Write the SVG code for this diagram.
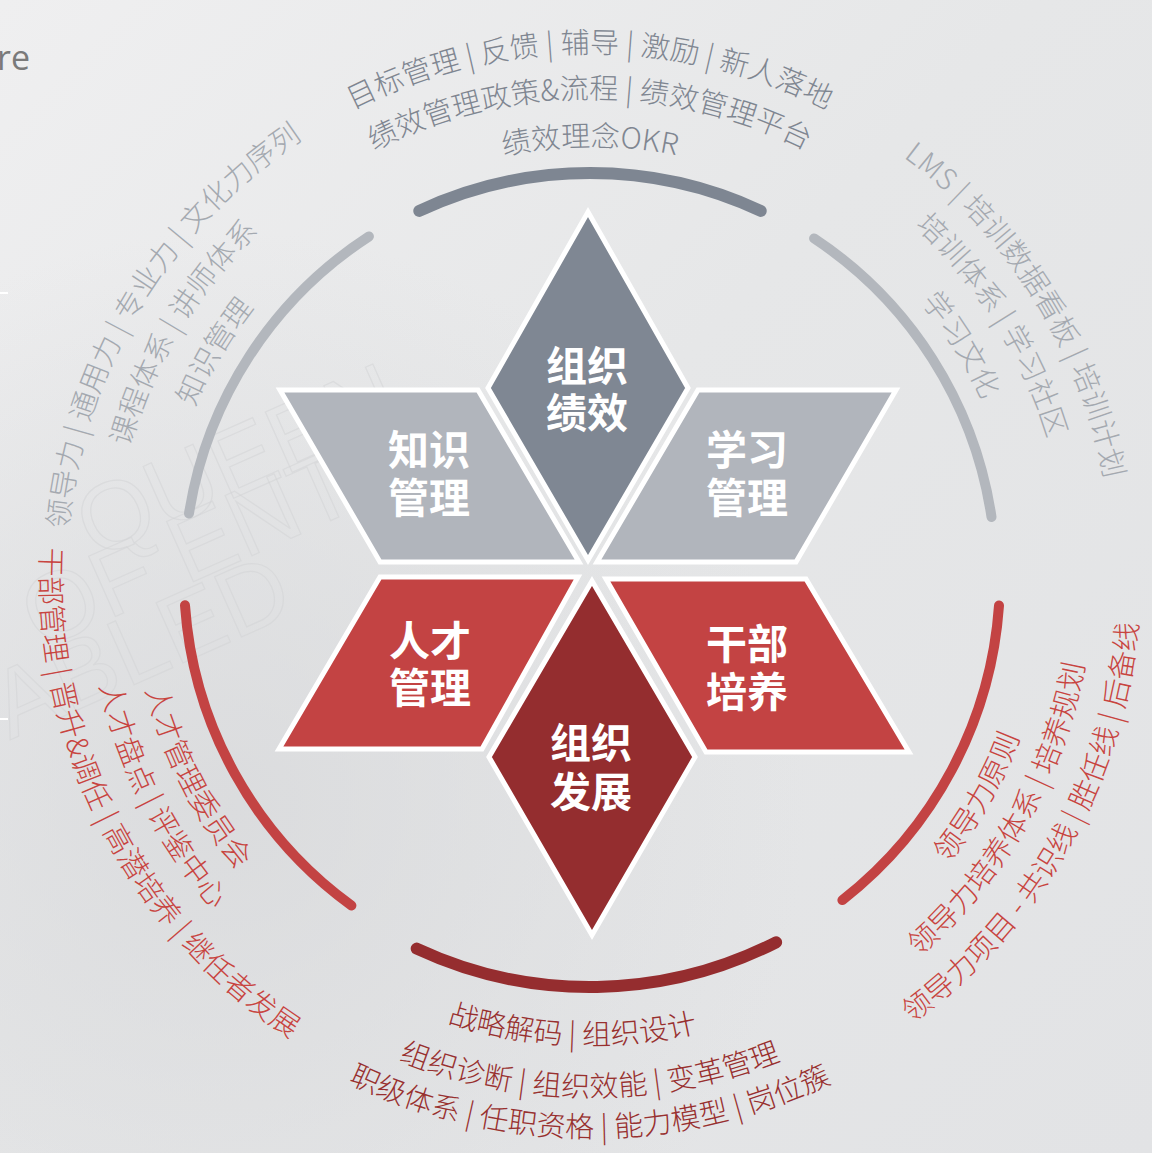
<svg xmlns="http://www.w3.org/2000/svg" xmlns:xlink="http://www.w3.org/1999/xlink" width="1152" height="1153" viewBox="0 0 1152 1153">
<style>
.bg{fill:url(#bgGrad)}
.shape{stroke:#ffffff;stroke-width:5;stroke-linejoin:miter}
.lbl{font-family:"Noto Sans CJK SC","Noto Sans",sans-serif;font-weight:700;font-size:41px;fill:#ffffff;text-anchor:middle}
.ring{fill:none;stroke-linecap:round}
.arc{font-family:"Noto Sans CJK SC","Noto Sans",sans-serif;font-size:29px;font-weight:300;letter-spacing:0.2px}
.tg{fill:#7f8691}
.sg{fill:#a4a9b0}
.rd{fill:#c8443f}
.dr{fill:#98302f}
.wm{font-family:"Liberation Sans","DejaVu Sans",sans-serif;font-size:96px;fill:none;stroke:#d3d4d6;stroke-width:1.2;opacity:0.55}
</style>
<defs>
<linearGradient id="bgGrad" x1="0" y1="0" x2="1" y2="1">
<stop offset="0" stop-color="#efeff0"/>
<stop offset="0.45" stop-color="#e6e7e8"/>
<stop offset="1" stop-color="#e2e3e5"/>
</linearGradient>
<radialGradient id="shade" cx="0.2" cy="0.7" r="0.5">
<stop offset="0" stop-color="#d8d9db" stop-opacity="0.8"/>
<stop offset="1" stop-color="#d8d9db" stop-opacity="0"/>
</radialGradient>
<path id="cw524" d="M 68.0 531.3 A 524 524 0 0 1 1112.0 531.3"/>
<path id="cw478" d="M 113.8 535.3 A 478 478 0 0 1 1066.2 535.3"/>
<path id="cw430" d="M 161.6 539.5 A 430 430 0 0 1 1018.4 539.5"/>
<path id="cc550" d="M 42.1 624.9 A 550 550 0 0 0 1137.9 624.9"/>
<path id="cc502" d="M 89.9 620.8 A 502 502 0 0 0 1090.1 620.8"/>
<path id="cc458" d="M 133.7 616.9 A 458 458 0 0 0 1046.3 616.9"/>
<path id="cc560" d="M 32.1 625.8 A 560 560 0 0 0 1147.9 625.8"/>
<path id="cc520" d="M 72.0 622.3 A 520 520 0 0 0 1108.0 622.3"/>
<path id="cc468" d="M 123.8 617.8 A 468 468 0 0 0 1056.2 617.8"/>
</defs>

<g id="background">
<rect class="bg" x="0" y="0" width="1152" height="1153"/>
<rect x="0" y="0" width="1152" height="1153" fill="url(#shade)"/>
<text x="-3" y="70" font-family="'Open Sans','Noto Sans',sans-serif" font-size="34" fill="#7a7a7a">re</text>
<rect x="0" y="292" width="8" height="2" fill="#ffffff"/>
<rect x="0" y="718" width="8" height="2" fill="#ffffff"/>
<text class="wm" transform="translate(95 560) rotate(-24)">QUEEN</text>
<text class="wm" transform="translate(40 650) rotate(-24)">OF ENTER</text>
<text class="wm" transform="translate(10 740) rotate(-24)">ABLED</text>
</g>

<g id="rings">
<path class="ring" d="M 419.3 210.9 A 404 404 0 0 1 760.7 210.9" stroke="#7e8692" stroke-width="12"/>
<path class="ring" d="M 814.1 238.4 A 406 406 0 0 1 991.5 517.0" stroke="#b3b7bd" stroke-width="10"/>
<path class="ring" d="M 999.0 605.6 A 410 410 0 0 1 842.4 900.1" stroke="#c34343" stroke-width="10"/>
<path class="ring" d="M 776.1 942.3 A 410 410 0 0 1 416.7 948.6" stroke="#952d2f" stroke-width="12"/>
<path class="ring" d="M 351.4 905.5 A 406 406 0 0 1 185.0 605.3" stroke="#c34343" stroke-width="10"/>
<path class="ring" d="M 189.0 513.5 A 406 406 0 0 1 368.9 236.5" stroke="#b3b7bd" stroke-width="10"/>
</g>

<g id="node-performance">
<polygon class="shape" points="588,212 688,388 588,560 488,388" fill="#7f8793"/>
<text class="lbl" x="587" y="381">组织</text>
<text class="lbl" x="587" y="428">绩效</text>
</g>
<g id="node-knowledge">
<polygon class="shape" points="280,390 478,390 579,562 380,562" fill="#b1b5bc"/>
<text class="lbl" x="429" y="465">知识</text>
<text class="lbl" x="429" y="513">管理</text>
</g>
<g id="node-learning">
<polygon class="shape" points="698,390 896,390 796,562 597,562" fill="#b1b5bc"/>
<text class="lbl" x="747" y="465">学习</text>
<text class="lbl" x="747" y="513">管理</text>
</g>
<g id="node-talent">
<polygon class="shape" points="380,577 578,577 482,749 279,749" fill="#c34343"/>
<text class="lbl" x="430" y="656">人才</text>
<text class="lbl" x="430" y="703">管理</text>
</g>
<g id="node-cadre">
<polygon class="shape" points="606,579 806,579 909,752 706,752" fill="#c34343"/>
<text class="lbl" x="747" y="659">干部</text>
<text class="lbl" x="747" y="707">培养</text>
</g>
<g id="node-orgdev">
<polygon class="shape" points="592,581 695,757 592,935 489,757" fill="#942d2f"/>
<text class="lbl" x="591" y="758">组织</text>
<text class="lbl" x="591" y="807">发展</text>
</g>

<g id="text-top" class="arc tg">
<text><textPath href="#cw524" startOffset="50%" text-anchor="middle">目标管理 | 反馈 | 辅导 | 激励 | 新人落地</textPath></text>
<text><textPath href="#cw478" startOffset="50%" text-anchor="middle">绩效管理政策&amp;流程 | 绩效管理平台</textPath></text>
<text><textPath href="#cw430" startOffset="50%" text-anchor="middle">绩效理念OKR</textPath></text>
</g>
<g id="text-right-gray" class="arc sg" transform="rotate(58 590 577)">
<text><textPath href="#cw524" startOffset="50%" text-anchor="middle">LMS | 培训数据看板 | 培训计划</textPath></text>
<text><textPath href="#cw478" startOffset="50%" text-anchor="middle">培训体系 | 学习社区</textPath></text>
<text><textPath href="#cw430" startOffset="50%" text-anchor="middle">学习文化</textPath></text>
</g>
<g id="text-left-gray" class="arc sg" transform="rotate(-59 590 577)">
<text><textPath href="#cw524" startOffset="50%" text-anchor="middle">领导力 | 通用力 | 专业力 | 文化力序列</textPath></text>
<text><textPath href="#cw478" startOffset="50%" text-anchor="middle">课程体系 | 讲师体系</textPath></text>
<text><textPath href="#cw430" startOffset="50%" text-anchor="middle">知识管理</textPath></text>
</g>
<g id="text-left-red" class="arc rd" transform="rotate(63 590 577)">
<text><textPath href="#cc550" startOffset="50%" text-anchor="middle">干部管理 | 晋升&amp;调任 | 高潜培养 | 继任者发展</textPath></text>
<text><textPath href="#cc502" startOffset="50%" text-anchor="middle">人才盘点 | 评鉴中心</textPath></text>
<text><textPath href="#cc458" startOffset="50%" text-anchor="middle">人才管理委员会</textPath></text>
</g>
<g id="text-right-red" class="arc rd" transform="rotate(-60.5 590 577)">
<text><textPath href="#cc550" startOffset="50%" text-anchor="middle">领导力项目 - 共识线 | 胜任线 | 后备线</textPath></text>
<text><textPath href="#cc502" startOffset="50%" text-anchor="middle">领导力培养体系 | 培养规划</textPath></text>
<text><textPath href="#cc458" startOffset="50%" text-anchor="middle">领导力原则</textPath></text>
</g>
<g id="text-bottom" class="arc dr">
<text><textPath href="#cc560" startOffset="50%" text-anchor="middle">职级体系 | 任职资格 | 能力模型 | 岗位簇</textPath></text>
<text><textPath href="#cc520" startOffset="50%" text-anchor="middle">组织诊断 | 组织效能 | 变革管理</textPath></text>
<text transform="rotate(2.2 590 577)"><textPath href="#cc468" startOffset="50%" text-anchor="middle">战略解码 | 组织设计</textPath></text>
</g>
</svg>
